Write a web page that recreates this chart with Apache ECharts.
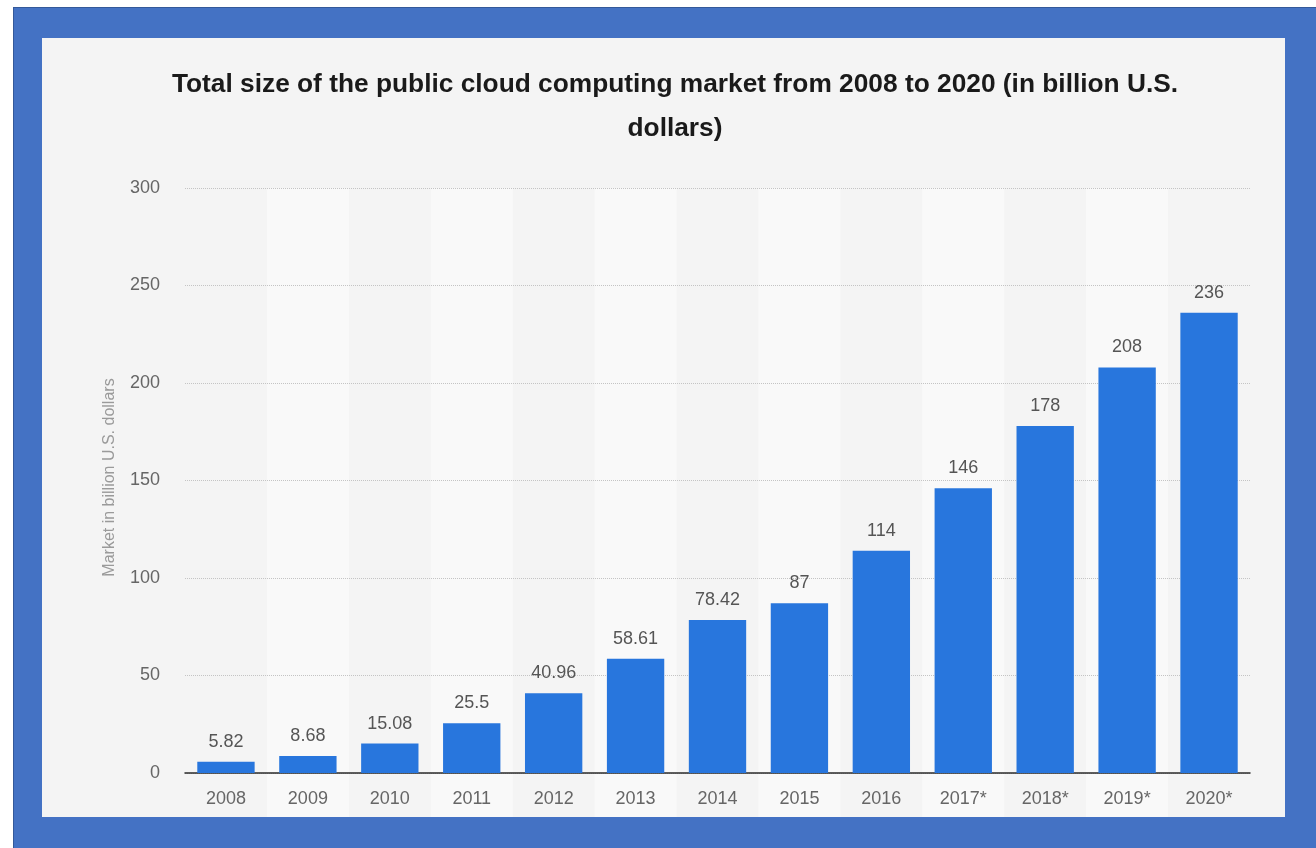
<!DOCTYPE html>
<html>
<head>
<meta charset="utf-8">
<script src="https://cdn.jsdelivr.net/npm/echarts@6/dist/echarts.min.js"></script>
<style>
  html, body { margin: 0; padding: 0; background: #ffffff; width: 1316px; height: 848px; overflow: hidden; }
  #frame { position: absolute; left: 13px; top: 7px; right: 0; bottom: 0; background: #4472c4;
           border-top: 1px solid #34599a; border-left: 1px solid #34599a; }
  #panel { position: absolute; left: 42px; top: 38px; width: 1243px; height: 779px; background: #f4f4f4; }
  #chart { position: absolute; left: 0; top: 0; width: 1316px; height: 848px; }
</style>
</head>
<body>
<div id="frame"></div>
<div id="panel"></div>
<div id="chart"></div>
<script>
// Public cloud market size, billion USD (* = forecast)
const years = ['2008', '2009', '2010', '2011', '2012', '2013', '2014', '2015', '2016', '2017*', '2018*', '2019*', '2020*'];
const marketSize = [5.82, 8.68, 15.08, 25.5, 40.96, 58.61, 78.42, 87, 114, 146, 178, 208, 236];
const titleText = 'Total size of the public cloud computing market from 2008 to 2020 (in billion U.S.\ndollars)';
const yAxisName = 'Market in billion U.S. dollars';

const FONT = '"Liberation Sans", Arial, Helvetica, sans-serif';

const chart = echarts.init(document.getElementById('chart'), null, { renderer: 'canvas' });

chart.setOption({
  backgroundColor: 'transparent',
  animation: false,
  textStyle: { fontFamily: FONT },
  title: {
    text: titleText,
    left: 670,
    top: 58,
    textAlign: 'center',
    textStyle: {
      fontFamily: FONT,
      fontSize: 26.3,
      fontWeight: 'bold',
      color: '#1a1a1a',
      lineHeight: 44
    }
  },
  grid: [
    { left: 185, right: 66, top: 188, bottom: 75 },
    // taller grid used only for the alternating column bands
    { left: 185, right: 66, top: 188, bottom: 31 }
  ],
  xAxis: [
    {
      type: 'category',
      gridIndex: 0,
      data: years,
      axisLine: { show: true, lineStyle: { color: '#2b2b2b', width: 1.5 } },
      axisTick: { show: false },
      axisLabel: { color: '#666666', fontSize: 18, margin: 17, fontFamily: FONT },
      splitLine: { show: false }
    },
    {
      type: 'category',
      gridIndex: 1,
      data: years,
      z: -5,
      axisLine: { show: false },
      axisTick: { show: false },
      axisLabel: { show: false },
      splitLine: { show: false },
      splitArea: { show: true, areaStyle: { color: ['rgba(0,0,0,0)', '#f9f9f9'] } }
    }
  ],
  yAxis: [
    {
      type: 'value',
      gridIndex: 0,
      min: 0,
      max: 300,
      interval: 50,
      name: yAxisName,
      nameLocation: 'middle',
      nameGap: 67,
      nameTextStyle: { color: '#9a9a9a', fontSize: 16, fontFamily: FONT, padding: [0, 0, 0, 6] },
      axisLine: { show: false },
      axisTick: { show: false },
      axisLabel: { color: '#666666', fontSize: 18, margin: 25, fontFamily: FONT },
      splitLine: { show: true, lineStyle: { color: '#c4c4c4', type: 'dotted', width: 1 } }
    },
    { type: 'value', gridIndex: 1, show: false, min: 0, max: 1 }
  ],
  series: [
    {
      type: 'bar',
      xAxisIndex: 0,
      yAxisIndex: 0,
      data: marketSize,
      barWidth: '70%',
      itemStyle: { color: '#2876dd' },
      label: {
        show: true,
        position: 'top',
        distance: 11,
        color: '#555555',
        fontSize: 18,
        fontFamily: FONT
      }
    }
  ]
});
</script>
</body>
</html>
